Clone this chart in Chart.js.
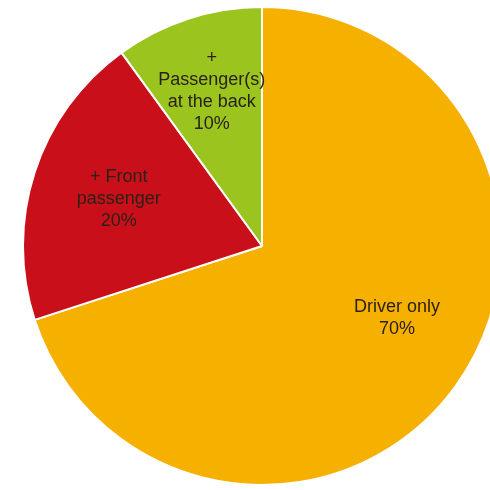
<!DOCTYPE html>
<html>
<head>
<meta charset="utf-8">
<script src="https://cdn.jsdelivr.net/npm/chart.js@4/dist/chart.umd.min.js"></script>
<style>
    html, body { margin: 0; padding: 0; background: #fff; overflow: hidden; }
    #wrap { position: absolute; left: 0; top: 0; width: 524px; height: 490px; }
</style>
</head>
<body>
<div id="wrap"><canvas id="pieCanvas"></canvas></div>
<script>
const categorias = [['Driver only'], ['+ Front', 'passenger'], ['+', 'Passenger(s)', 'at the back']];
const valores = [70, 20, 10];
const cores = ['#F6B100', '#C9101A', '#9BC41E'];

// posição dos rótulos: fração do raio e desvio de ângulo (graus) por fatia
const rotuloPos = [
    { raio: 0.64, desvio: -8 },
    { raio: 0.63, desvio: 0 },
    { raio: 0.68, desvio: 0 }
];

const rotulosPlugin = {
    id: 'rotulos',
    afterDatasetsDraw(chart) {
        const ctx = chart.ctx;
        const meta = chart.getDatasetMeta(0);
        const total = valores.reduce((a, b) => a + b, 0);
        ctx.save();
        ctx.font = '18px "Liberation Sans", Arial, sans-serif';
        ctx.fillStyle = '#2a2218';
        ctx.textAlign = 'center';
        ctx.textBaseline = 'middle';
        meta.data.forEach((arc, i) => {
            const p = rotuloPos[i];
            const ang = (arc.startAngle + arc.endAngle) / 2 + p.desvio * Math.PI / 180;
            const r = arc.outerRadius * p.raio;
            const x = arc.x + Math.cos(ang) * r;
            const y = arc.y + Math.sin(ang) * r;
            const linhas = categorias[i].concat([Math.round(valores[i] / total * 100) + '%']);
            const lh = 22;
            linhas.forEach((txt, j) => {
                ctx.fillText(txt, x, y + (j - (linhas.length - 1) / 2) * lh);
            });
        });
        ctx.restore();
    }
};

const ctx = document.getElementById('pieCanvas').getContext('2d');
new Chart(ctx, {
    type: 'pie',
    data: {
        labels: categorias.map(c => c.join(' ')),
        datasets: [{
            data: valores,
            backgroundColor: cores,
            borderColor: '#ffffff',
            borderWidth: 2
        }]
    },
    options: {
        responsive: true,
        maintainAspectRatio: false,
        animation: false,
        layout: { padding: { top: 6, bottom: 4, left: 0, right: 0 } },
        plugins: {
            legend: { display: false },
            tooltip: { enabled: false }
        }
    },
    plugins: [rotulosPlugin]
});
</script>
</body>
</html>
